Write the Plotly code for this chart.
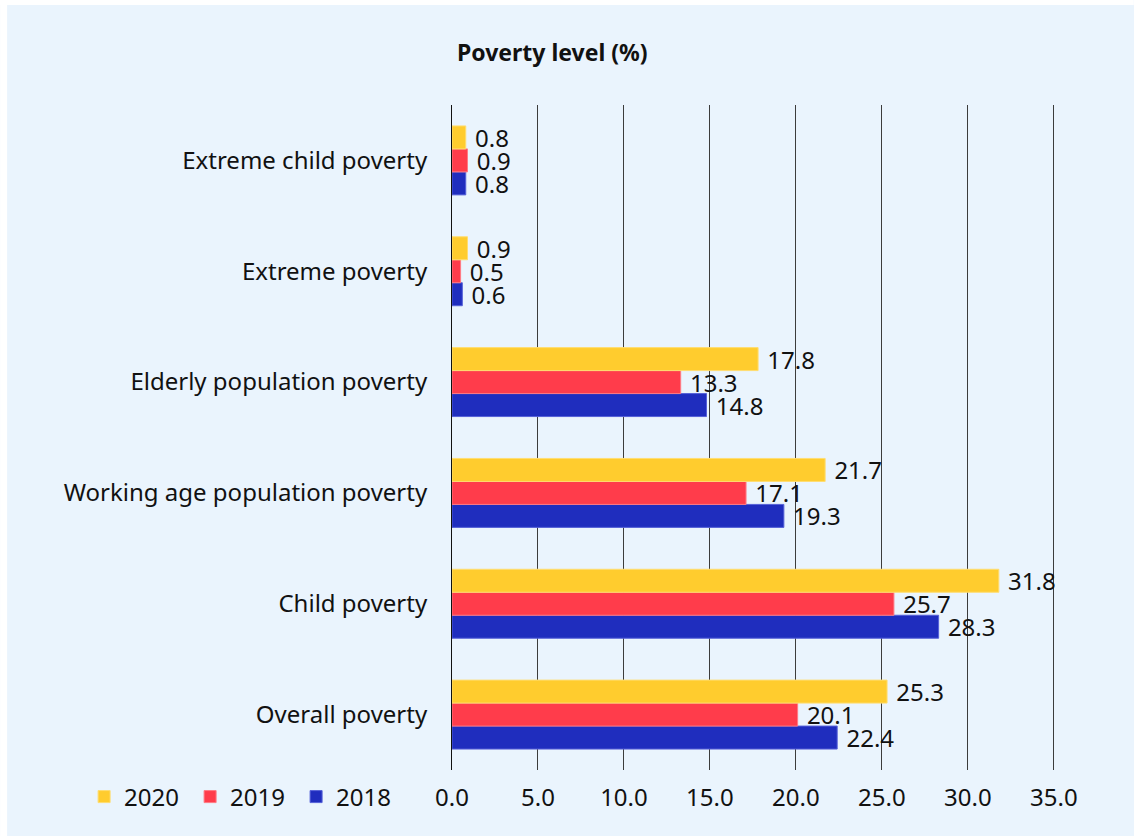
import plotly.graph_objects as go

categories = ["Extreme child poverty", "Extreme poverty", "Elderly population poverty",
              "Working age population poverty", "Child poverty", "Overall poverty"]
v2020 = [0.8, 0.9, 17.8, 21.7, 31.8, 25.3]
v2019 = [0.9, 0.5, 13.3, 17.1, 25.7, 20.1]
v2018 = [0.8, 0.6, 14.8, 19.3, 28.3, 22.4]
x_ticks = [0, 5, 10, 15, 20, 25, 30, 35]
x_ticktext = ["0.0", "5.0", "10.0", "15.0", "20.0", "25.0", "30.0", "35.0"]

FONT = "Noto Sans"
FS = 24
BG = "#EAF4FD"

W, H = 1134, 836
L, T, B = 452, 105, 770
XMAX = 35.3
PXU = (1054 - L) / 35.0
R = L + XMAX * PXU

fig = go.Figure()
series = [("2018", v2018, "#1F2DBE", "#5560D8"),
          ("2019", v2019, "#FF3C4B", "#FF7A84"),
          ("2020", v2020, "#FFCC2E", "#FFDD70")]
for name, vals, col, edge in series:
    fig.add_trace(go.Bar(
        name=name, y=categories, x=vals, orientation="h",
        marker=dict(color=col, line=dict(color=edge, width=1)),
        text=["\u00a0" + f"{v:.1f}" for v in vals], textposition="outside",
        constraintext="none",
        textfont=dict(family=FONT, size=FS, color="#111111"),
        cliponaxis=False,
    ))

pw, ph = R - L, B - T
fig.update_layout(
    width=W, height=H,
    margin=dict(l=L, r=W - R, t=T, b=H - B, pad=0),
    paper_bgcolor=BG, plot_bgcolor=BG,
    barmode="group", bargap=0.378, bargroupgap=0,
    font=dict(family=FONT, size=FS, color="#111111"),
    xaxis=dict(range=[0, XMAX], tickvals=x_ticks, ticktext=x_ticktext,
               showgrid=True, gridcolor="#3c3c3c", gridwidth=1,
               zeroline=False, showline=False, ticks="",
               ticklabelstandoff=11, tickfont=dict(family=FONT, size=FS, color="#111111")),
    yaxis=dict(categoryorder="array", categoryarray=categories[::-1],
               showgrid=False, zeroline=False, showline=True, linecolor="#111111",
               linewidth=1, ticks="", ticklabelstandoff=19,
               tickfont=dict(family=FONT, size=FS, color="#111111")),
    legend=dict(orientation="h", traceorder="reversed",
                x=(84 - L) / pw, xanchor="left",
                y=-(797 - B) / ph, yanchor="middle",
                font=dict(family=FONT, size=FS, color="#111111"),
                bgcolor="rgba(0,0,0,0)", itemwidth=30,
                entrywidth=61, entrywidthmode="pixels"),
    annotations=[dict(text="<b>Poverty level (%)</b>", x=(553 - L) / pw, y=1 + (T - 52) / ph,
                      xref="paper", yref="paper", showarrow=False,
                      font=dict(family=FONT, size=23, color="#111111"),
                      xanchor="center", yanchor="middle")],
    shapes=[
        dict(type="rect", xref="paper", yref="paper", layer="below",
             x0=(0 - L) / pw, x1=(7 - L) / pw, y0=-(H - B) / ph, y1=1 + T / ph,
             fillcolor="white", line=dict(width=0)),
        dict(type="rect", xref="paper", yref="paper", layer="below",
             x0=(0 - L) / pw, x1=(W - L) / pw, y0=1 + (T - 5) / ph, y1=1 + T / ph,
             fillcolor="white", line=dict(width=0)),
    ],
)

fig.write_html("out.html")
